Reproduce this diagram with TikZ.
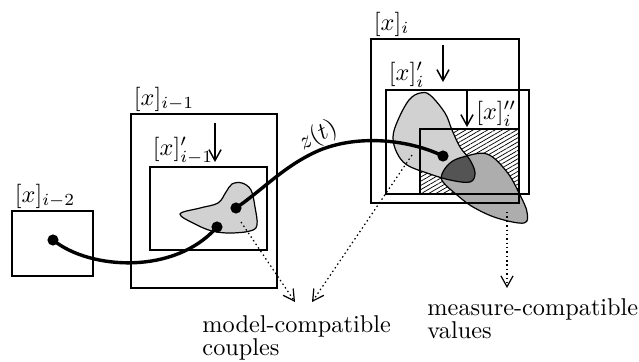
\documentclass[tikz,border=0pt]{standalone}
\usetikzlibrary{arrows.meta,patterns.meta}
\definecolor{lgray}{gray}{0.82}
\definecolor{mgray}{gray}{0.68}
\definecolor{dgray}{gray}{0.33}
\newcommand\blobApath{plot[smooth cycle,tension=0.6] coordinates {(420,93) (430,95) (445,113) (452,130) (460,147) (470,160) (475,173) (470,182) (450,180) (427,173) (407,165) (397,153) (393,137) (398,120) (409,100)}}
\newcommand\blobBpath{plot[smooth cycle,tension=0.6] coordinates {(487,154) (507,172) (520,195) (527,212) (524,223) (497,218) (473,207) (457,195) (443,182) (442,174) (450,163) (463,157)}}
\newcommand\blobCpath{plot[smooth cycle,tension=0.6] coordinates {(180,214) (200,208) (218,203) (226,192) (232,184) (242,183) (251,190) (255,207) (257,225) (250,231) (230,233) (212,231) (195,224)}}
\begin{document}
\begin{tikzpicture}[x=0.4115pt,y=-0.4115pt,
  boxline/.style={draw=black,line width=0.6pt},
  blobline/.style={draw=black,line width=0.5pt},
  curveline/.style={line width=1.4pt,black},
  dotnode/.style={circle,fill=black,inner sep=0pt,minimum size=4.6pt},
  downarr/.style={line width=0.6pt,-{Straight Barb[length=4.5pt,width=5pt]}},
  dotarr/.style={line width=0.5pt,dash pattern=on 0.6pt off 1.2pt,-{Straight Barb[length=4.5pt,width=5pt]}},
  lbl/.style={inner sep=1pt},
  txt/.style={align=left,inner sep=0pt,font=\fontsize{10}{9.4}\selectfont}]
\useasboundingbox (0,0) rectangle (639,361);
% box corners
\coordinate (A1) at (12,211); \coordinate (A2) at (93,276);
\coordinate (B1) at (131,114); \coordinate (B2) at (277,288);
\coordinate (Bp1) at (150,167); \coordinate (Bp2) at (267,250);
\coordinate (C1) at (371,39); \coordinate (C2) at (519,203);
\coordinate (Cp1) at (386,90); \coordinate (Cp2) at (529,194);
\coordinate (Cpp1) at (420,129); \coordinate (Cpp2) at (519,194);
% hatch
\fill[pattern={Lines[angle=30,distance=1.5pt,line width=0.3pt]}] (Cpp1) rectangle (Cpp2);
% blobs
\fill[lgray] \blobApath;
\fill[mgray] \blobBpath;
\begin{scope}
  \clip \blobApath;
  \fill[dgray] \blobBpath;
\end{scope}
\draw[blobline] \blobApath;
\draw[blobline] \blobBpath;
\filldraw[fill=lgray,blobline] \blobCpath;
% boxes
\draw[boxline] (A1) rectangle (A2);
\draw[boxline] (B1) rectangle (B2);
\draw[boxline] (Bp1) rectangle (Bp2);
\draw[boxline] (C1) rectangle (C2);
\draw[boxline] (Cp1) rectangle (Cp2);
\draw[boxline] (Cpp1) rectangle (Cpp2);
% labels
\node[lbl,anchor=south west] (LA) at (A1) {$[x]_{i-2}$};
\node[lbl,anchor=south west] (LB) at (B1) {$[x]_{i-1}$};
\node[lbl,anchor=south west] (LBp) at (Bp1) {$[x]'_{i-1}$};
\node[lbl,anchor=south west] (LC) at (C1) {$[x]_{i}$};
\node[lbl,anchor=south west] (LCp) at (Cp1) {$[x]'_{i}$};
\node[lbl,anchor=south east] (LCpp) at (519,129) {$[x]''_{i}$};
% down arrows
\coordinate (u1) at (215,123); \coordinate (v1) at (215,162);
\coordinate (u2) at (443,45); \coordinate (v2) at (443,82);
\coordinate (u3) at (467,90); \coordinate (v3) at (467,127);
\draw[downarr] (u1) -- (v1);
\draw[downarr] (u2) -- (v2);
\draw[downarr] (u3) -- (v3);
% dots and trajectory
\node[dotnode] (d0) at (53,240) {};
\node[dotnode] (d1) at (217,227) {};
\node[dotnode] (d2) at (236,208) {};
\node[dotnode] (d3) at (443,156) {};
\draw[curveline] (d0.center) .. controls (90,270) and (175,275) .. (d1.center);
\draw[curveline] (d2.center) .. controls (265,188) and (285,165) .. (320,150)
   .. controls (360,134) and (410,140) .. (d3.center);
\node[rotate=28,inner sep=0pt] (zt) at (318,136) {$z(t)$};
% texts
\node[txt,anchor=base west] (mc) at (202,355) {model-compatible\\couples};
\node[txt,anchor=base west] (mv) at (427,338) {measure-compatible\\values};
% dotted arrows
\coordinate (s1) at (241,222); \coordinate (e1) at (295,302);
\coordinate (s2) at (412,155); \coordinate (e2) at (312,302);
\coordinate (s3) at (507,212); \coordinate (e3) at (507,288);
\draw[dotarr] (s1) -- (e1);
\draw[dotarr] (s2) -- (e2);
\draw[dotarr] (s3) -- (e3);
\end{tikzpicture}
\end{document}
